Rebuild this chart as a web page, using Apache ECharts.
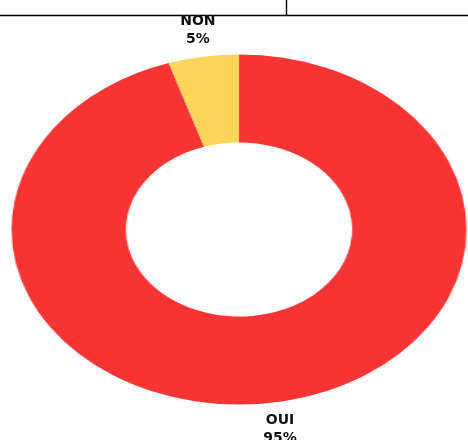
<!DOCTYPE html>
<html lang="fr">

<head>
    <meta charset="UTF-8">
    <title>OUI / NON</title>
    <script src="https://cdn.jsdelivr.net/npm/echarts@6/dist/echarts.min.js"></script>
    <style>
        body {
            margin: 0;
            background: #fff;
        }

        #wrap {
            position: relative;
            width: 468px;
            height: 440px;
            overflow: hidden;
        }

        #pie,
        #labels {
            position: absolute;
            left: 0;
            top: 0;
            width: 468px;
            height: 440px;
        }

        /* the donut in the picture is an ellipse: stretch the ring horizontally */
        #pie {
            transform: scaleX(1.3);
            transform-origin: 239px 0;
        }
    </style>
</head>

<body>
    <div id="wrap">
        <div id="pie"></div>
        <div id="labels"></div>
    </div>
    <script>
        // data
        var categories = ['OUI', 'NON'];
        var values = [95, 5];
        var colors = ['#f73434', '#fbd65b'];

        var cx = 239, cy = 229.5, stretch = 1.3;

        var pieData = categories.map(function (c, i) {
            return { name: c, value: values[i], itemStyle: { color: colors[i] } };
        });

        // ring (stretched)
        var pieChart = echarts.init(document.getElementById('pie'));
        pieChart.setOption({
            animation: false,
            series: [{
                type: 'pie',
                center: [cx, cy],
                radius: [87, 175],
                startAngle: 90,
                label: { show: false },
                labelLine: { show: false },
                data: pieData
            }]
        });

        // labels (not stretched), moved onto the ellipse
        var labelChart = echarts.init(document.getElementById('labels'));
        labelChart.setOption({
            animation: false,
            graphic: [
                { type: 'line', shape: { x1: 0, y1: 15.5, x2: 468, y2: 15.5 }, style: { stroke: '#000', lineWidth: 1.6 } },
                { type: 'line', shape: { x1: 286.5, y1: 0, x2: 286.5, y2: 16 }, style: { stroke: '#000', lineWidth: 1.4 } }
            ],
            series: [{
                type: 'pie',
                center: [cx, cy],
                radius: [87, 175],
                startAngle: 90,
                itemStyle: { color: 'rgba(0,0,0,0)' },
                emphasis: { disabled: true },
                label: {
                    position: 'outside',
                    formatter: '{b}\n{d}%',
                    color: '#111',
                    fontFamily: 'DejaVu Sans',
                    fontWeight: 'bold',
                    fontSize: 14,
                    lineHeight: 18
                },
                labelLine: { show: false, length: 27, length2: 0 },
                labelLayout: function (p) {
                    var pt = p.labelLinePoints && p.labelLinePoints[1];
                    if (!pt) return {};
                    return {
                        x: cx + (pt[0] - cx) * stretch,
                        y: pt[1],
                        align: 'center',
                        verticalAlign: 'middle'
                    };
                },
                data: categories.map(function (c, i) {
                    return { name: c, value: values[i] };
                })
            }]
        });
    </script>
</body>

</html>
